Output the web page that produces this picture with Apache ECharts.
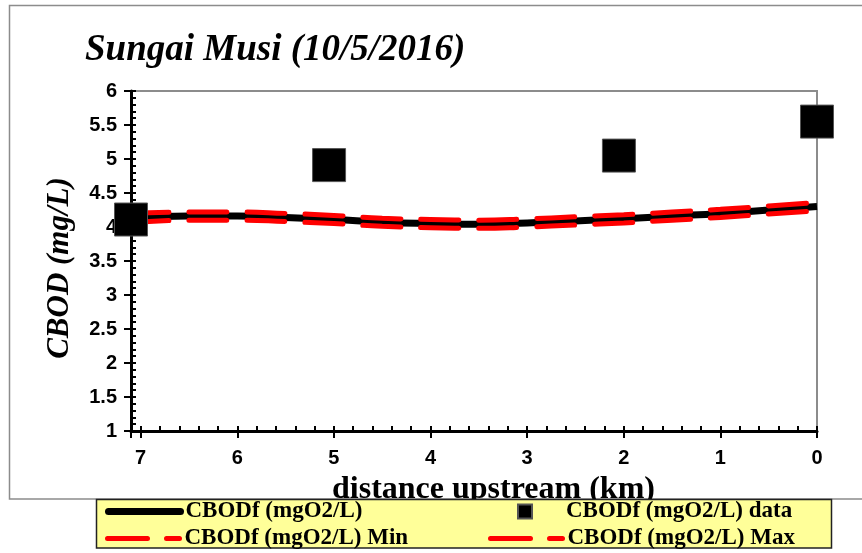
<!DOCTYPE html>
<html>
<head>
<meta charset="utf-8">
<script src="https://cdn.jsdelivr.net/npm/echarts@6/dist/echarts.min.js"></script>
<style>
  html, body { margin: 0; padding: 0; background: #fff; }
  #chart { width: 862px; height: 553px; }
</style>
</head>
<body>
<div id="chart"></div>
<script>
// Simulated CBODf profile along the river (distance upstream, km)
const modelDistance = [7.1, 6.5, 6.0, 5.5, 5.0, 4.5, 4.0, 3.5, 3.0, 2.5, 2.0, 1.5, 1.0, 0.5, 0.0];
const cbodModel = [4.13, 4.16, 4.16, 4.14, 4.11, 4.07, 4.05, 4.04, 4.06, 4.09, 4.12, 4.16, 4.20, 4.25, 4.30];
const cbodMin   = [4.06, 4.10, 4.10, 4.08, 4.05, 4.01, 3.99, 3.98, 4.00, 4.03, 4.06, 4.10, 4.14, 4.19, 4.24];
const cbodMax   = [4.20, 4.22, 4.22, 4.20, 4.17, 4.13, 4.11, 4.10, 4.12, 4.15, 4.18, 4.22, 4.26, 4.31, 4.36];

// Observed samples
const dataDistance = [7.1, 5.05, 2.05, 0.0];
const cbodData = [4.11, 4.91, 5.05, 5.55];

// Axis tick values
const xTicks = [0, 1, 2, 3, 4, 5, 6, 7];
const yTicks = [1, 1.5, 2, 2.5, 3, 3.5, 4, 4.5, 5, 5.5, 6];

const NAME_MODEL = 'CBODf (mgO2/L)';
const NAME_DATA = 'CBODf (mgO2/L) data';
const NAME_MIN = 'CBODf (mgO2/L) Min';
const NAME_MAX = 'CBODf (mgO2/L) Max';

const pairs = (xs, ys) => xs.map((x, i) => [x, ys[i]]);

const SERIF = '"Liberation Serif", "Times New Roman", serif';
const SANS = '"Liberation Sans", Arial, sans-serif';

// line series carry no visible point markers (also keeps legend icons as plain strokes)
const hiddenMark = { color: 'rgba(0,0,0,0)', borderWidth: 0, borderColor: 'rgba(0,0,0,0)' };

// legend marker: a centred square inside the full icon box
const SQUARE_ICON = 'path://M0,0L0,0ZM72,14L72,14ZM29,0H43V14H29Z';

const tickLabel = { fontFamily: SANS, fontWeight: 'bold', fontSize: 20, color: '#000' };

const chart = echarts.init(document.getElementById('chart'), null, { renderer: 'canvas' });

const legendText = { fontFamily: SERIF, fontWeight: 'bold', fontSize: 23, color: '#000' };
function legendAt(name, left, top, extra) {
  return Object.assign({
    data: [name], left: left, top: top, orient: 'horizontal',
    padding: 0, itemWidth: 72, itemHeight: 14, selectedMode: false,
    textStyle: legendText, z: 10
  }, extra || {});
}

const redDash = { color: '#ff0000', width: 5, type: [38, 20], cap: 'round' };
const redDashLegend = { color: '#ff0000', width: 5, type: [40, 19], cap: 'round' };

chart.setOption({
  animation: false,
  backgroundColor: '#fff',
  grid: {
    left: 131, right: 45, top: 91, bottom: 122,
    show: true, borderColor: '#8c8c8c', borderWidth: 2, backgroundColor: 'transparent'
  },
  xAxis: [
    {
      type: 'value', min: 0, max: 7.1, interval: 1, inverse: true, position: 'bottom',
      axisLine: { show: true, onZero: false, lineStyle: { color: '#000', width: 3 } },
      axisTick: { show: true, inside: false, length: 7, lineStyle: { color: '#000', width: 2 } },
      axisLabel: {
        ...tickLabel, margin: 17,
        formatter: v => (xTicks.indexOf(v) >= 0 ? String(v) : '')
      },
      splitLine: { show: false }
    },
    {
      type: 'value', min: 0, max: 7.1, interval: 0.2, inverse: true, position: 'bottom',
      axisLine: { show: false, onZero: false },
      axisTick: { show: true, inside: true, length: 5, lineStyle: { color: '#000', width: 2 } },
      axisLabel: { show: false },
      splitLine: { show: false }
    }
  ],
  yAxis: [
    {
      type: 'value', min: 1, max: 6, interval: 0.5, position: 'left',
      axisLine: { show: true, onZero: false, lineStyle: { color: '#000', width: 3 } },
      axisTick: { show: true, inside: false, length: 7, lineStyle: { color: '#000', width: 2 } },
      axisLabel: {
        ...tickLabel, margin: 14,
        formatter: v => {
          const t = yTicks.find(y => Math.abs(y - v) < 1e-6);
          return t === undefined ? '' : String(t);
        }
      },
      splitLine: { show: false }
    },
    {
      type: 'value', min: 1, max: 6, interval: 0.1, position: 'left',
      axisLine: { show: false, onZero: false },
      axisTick: { show: true, inside: true, length: 5, lineStyle: { color: '#000', width: 2 } },
      axisLabel: { show: false },
      splitLine: { show: false }
    }
  ],
  legend: [
    legendAt(NAME_MODEL, 105, 500, { lineStyle: { color: '#000', width: 7, cap: 'round' }, itemStyle: hiddenMark }),
    legendAt(NAME_DATA, 488, 500, { data: [{ name: NAME_DATA, icon: SQUARE_ICON }] }),
    legendAt(NAME_MIN, 105, 527, { lineStyle: redDashLegend, itemStyle: hiddenMark }),
    legendAt(NAME_MAX, 488, 527, { lineStyle: redDashLegend, itemStyle: hiddenMark })
  ],
  graphic: [
    // outer chart frame
    { type: 'rect', z: 0, shape: { x: 9.5, y: 5.5, width: 900, height: 493.5 },
      style: { fill: 'none', stroke: '#8c8c8c', lineWidth: 1.5 } },
    // title
    { type: 'text', z: 5, left: 85, top: 32,
      style: { text: 'Sungai Musi (10/5/2016)', font: 'italic bold 37px ' + SERIF, fill: '#000' } },
    // y axis title
    { type: 'text', z: 5, x: 60, y: 268, rotation: Math.PI / 2,
      style: { text: 'CBOD (mg/L)', font: 'italic bold 31px ' + SERIF, fill: '#000',
               align: 'center', verticalAlign: 'middle' } },
    // x axis title
    { type: 'text', z: 2, x: 332, y: 490,
      style: { text: 'distance upstream (km)', font: 'bold 32px ' + SERIF, fill: '#000',
               align: 'left', verticalAlign: 'middle' } },
    // legend panel
    { type: 'rect', z: 3, shape: { x: 96.5, y: 499.5, width: 735, height: 48.5 },
      style: { fill: '#ffff99', stroke: '#222', lineWidth: 1.5 } }
  ],
  series: [
    {
      name: NAME_MODEL, type: 'line', xAxisIndex: 0, yAxisIndex: 0,
      data: pairs(modelDistance, cbodModel), smooth: true, symbol: 'circle', showSymbol: false,
      lineStyle: { color: '#000', width: 7 }, itemStyle: hiddenMark, z: 2
    },
    {
      name: NAME_MIN, type: 'line', xAxisIndex: 0, yAxisIndex: 0,
      data: pairs(modelDistance, cbodMin), smooth: true, symbol: 'circle', showSymbol: false,
      lineStyle: redDash, itemStyle: hiddenMark, z: 3
    },
    {
      name: NAME_MAX, type: 'line', xAxisIndex: 0, yAxisIndex: 0,
      data: pairs(modelDistance, cbodMax), smooth: true, symbol: 'circle', showSymbol: false,
      lineStyle: redDash, itemStyle: hiddenMark, z: 3
    },
    {
      name: NAME_DATA, type: 'scatter', xAxisIndex: 0, yAxisIndex: 0,
      data: pairs(dataDistance, cbodData), symbol: 'rect', symbolSize: 33,
      itemStyle: { color: '#000', opacity: 1, borderColor: '#555', borderWidth: 1 }, clip: false, z: 4
    }
  ]
});
</script>
</body>
</html>
